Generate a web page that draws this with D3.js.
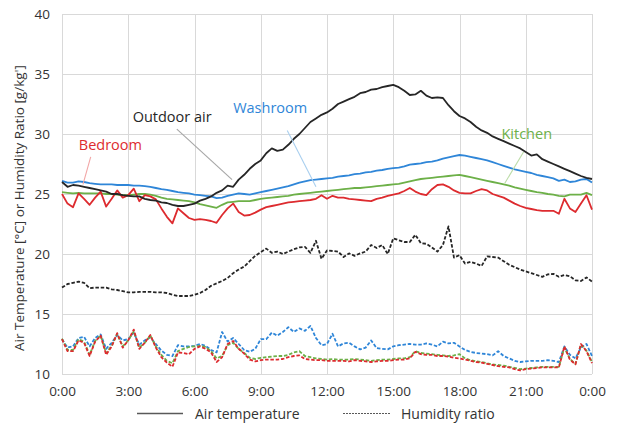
<!DOCTYPE html>
<html>
<head>
<meta charset="utf-8">
<script src="https://cdn.jsdelivr.net/npm/d3@7"></script>
<style>
  html, body { margin: 0; padding: 0; background: #fff; }
  svg { display: block; font-family: "Open Sans", "Noto Sans", sans-serif; }
</style>
</head>
<body>
<svg id="chart" width="626" height="427"></svg>
<script>
// 15-minute samples over one day (hours 0..24)
const times = d3.range(0, 97).map(i => i / 4);

const xTickHours = [0, 3, 6, 9, 12, 15, 18, 21, 24];
const xTickLabels = ["0:00", "3:00", "6:00", "9:00", "12:00", "15:00", "18:00", "21:00", "0:00"];
const yTicks = [10, 15, 20, 25, 30, 35, 40];

// Air temperature [°C]
const outdoorTemp = [
  26.0, 25.6, 25.75, 25.7, 25.6, 25.5, 25.4, 25.3, 25.2, 25.0, 25.0, 24.9,
  24.85, 24.8, 24.8, 24.6, 24.5, 24.45, 24.3, 24.25, 24.1, 24.0, 24.0, 24.1,
  24.2, 24.45, 24.6, 24.8, 25.1, 25.3, 25.7, 25.6, 26.2, 26.6, 27.1, 27.5,
  27.8, 28.4, 28.8, 28.6, 28.7, 29.1, 29.6, 30.0, 30.5, 31.0, 31.3, 31.6,
  31.8, 32.1, 32.5, 32.7, 32.9, 33.1, 33.4, 33.5, 33.7, 33.75, 33.9, 34.0,
  34.1, 33.9, 33.6, 33.25, 33.3, 33.6, 33.2, 33.0, 33.05, 33.0, 32.4, 31.9,
  31.5, 31.3, 31.0, 30.6, 30.3, 30.1, 29.8, 29.6, 29.4, 29.2, 29.0, 28.8,
  28.5, 28.2, 28.3, 27.9, 27.7, 27.5, 27.3, 27.1, 26.9, 26.7, 26.5, 26.35,
  26.25
];
const washroomTemp = [
  26.1, 25.95, 25.95, 26.05, 26.0, 25.9, 25.85, 25.8, 25.8, 25.8, 25.75, 25.75,
  25.75, 25.7, 25.7, 25.65, 25.6, 25.5, 25.4, 25.35, 25.25, 25.15, 25.1, 25.05,
  24.95, 24.9, 24.85, 24.8, 24.65, 24.7, 24.85, 24.95, 25.05, 25.0, 24.95, 25.05,
  25.15, 25.25, 25.35, 25.45, 25.55, 25.65, 25.8, 25.95, 26.05, 26.15, 26.2, 26.25,
  26.3, 26.35, 26.45, 26.5, 26.55, 26.65, 26.7, 26.8, 26.85, 26.95, 27.0, 27.1,
  27.15, 27.2, 27.3, 27.45, 27.5, 27.55, 27.65, 27.7, 27.8, 27.95, 28.05, 28.15,
  28.25, 28.2, 28.1, 28.0, 27.9, 27.8, 27.65, 27.5, 27.35, 27.2, 27.05, 26.95,
  26.85, 26.75, 26.6, 26.5, 26.4, 26.3, 26.1, 26.2, 26.0, 26.05, 26.2, 26.25,
  25.95
];
const kitchenTemp = [
  25.15, 25.1, 25.05, 25.1, 25.05, 25.05, 25.05, 25.05, 25.0, 25.0, 24.95, 24.9,
  24.9, 24.95, 25.0, 25.0, 24.95, 24.85, 24.7, 24.6, 24.55, 24.5, 24.45, 24.4,
  24.3, 24.15, 24.05, 23.95, 23.85, 24.1, 24.3, 24.35, 24.4, 24.4, 24.4, 24.5,
  24.6, 24.65, 24.7, 24.75, 24.8, 24.85, 24.95, 25.0, 25.05, 25.1, 25.15, 25.2,
  25.25, 25.3, 25.35, 25.4, 25.45, 25.5, 25.5, 25.55, 25.6, 25.65, 25.7, 25.75,
  25.8, 25.85, 25.95, 26.05, 26.15, 26.25, 26.3, 26.35, 26.4, 26.45, 26.5, 26.55,
  26.6, 26.5, 26.4, 26.3, 26.2, 26.1, 26.0, 25.9, 25.8, 25.7, 25.55, 25.45,
  25.35, 25.25, 25.15, 25.1, 25.0, 24.95, 24.85, 24.8, 24.95, 24.95, 24.95, 25.1,
  24.9
];
const bedroomTemp = [
  25.0, 24.2, 23.9, 25.05, 24.6, 24.1, 24.7, 25.2, 23.95, 24.6, 25.3, 24.7,
  24.9, 25.45, 24.4, 24.9, 24.8, 24.55, 23.8, 23.1, 22.55, 23.8, 23.4, 23.0,
  22.85, 22.9, 22.85, 22.75, 22.6, 23.25, 23.8, 24.2, 23.5, 23.2, 23.25, 23.45,
  23.7, 23.9, 24.0, 24.1, 24.2, 24.3, 24.35, 24.4, 24.45, 24.5, 24.6, 24.9,
  24.6, 24.85, 24.7, 24.7, 24.6, 24.55, 24.5, 24.45, 24.4, 24.6, 24.7, 24.85,
  24.95, 25.05, 25.25, 25.5, 25.2, 25.0, 24.9, 25.4, 25.75, 25.8, 25.6, 25.3,
  25.1, 25.05, 25.05, 25.25, 25.4, 25.3, 25.0, 24.85, 24.7, 24.45, 24.2, 24.0,
  23.85, 23.75, 23.65, 23.6, 23.6, 23.6, 23.35, 24.6, 23.8, 23.5, 24.2, 24.9,
  23.7
];

// Humidity ratio [g/kg']
const outdoorHum = [
  17.2, 17.5, 17.6, 17.7, 17.6, 17.15, 17.2, 17.2, 17.2, 17.05, 17.0, 16.9,
  16.8, 16.8, 16.85, 16.85, 16.85, 16.8, 16.8, 16.75, 16.6, 16.5, 16.5, 16.5,
  16.6, 16.75, 17.0, 17.35, 17.55, 17.75, 18.0, 18.4, 18.7, 18.95, 19.4, 19.85,
  20.15, 20.45, 20.1, 20.2, 20.0, 20.2, 20.4, 20.55, 20.6, 20.1, 21.1, 19.6,
  20.3, 20.25, 20.2, 19.75, 20.05, 19.85, 20.05, 20.2, 20.75, 20.5, 20.75, 20.0,
  21.3, 21.15, 21.0, 21.0, 21.6, 20.9, 20.85, 20.55, 20.2, 20.75, 22.3, 19.7,
  19.9, 19.2, 19.35, 19.2, 19.0, 19.8, 19.75, 19.7, 19.4, 19.1, 18.9, 18.7,
  18.55, 18.4, 18.25, 18.1, 18.3, 18.35, 18.1, 18.25, 18.15, 17.8, 17.75, 18.05,
  17.7
];
const washroomHum = [
  12.9, 12.2, 12.3, 13.0, 13.1, 12.3, 13.0, 13.3, 12.1, 12.6, 13.25, 12.8,
  12.9, 13.45, 12.45, 12.8, 13.05, 12.5, 11.95, 11.6, 11.5, 12.4, 12.3, 12.3,
  12.35, 12.5, 12.35, 12.0, 11.8, 13.5, 12.7, 13.0, 12.5, 12.0, 11.85, 12.1,
  12.9, 12.9, 13.45, 13.2, 13.5, 13.9, 13.5, 13.8, 13.6, 14.0, 13.0, 12.4,
  12.5, 13.35, 12.3, 12.55, 12.6, 12.3, 12.05, 12.2, 12.8, 12.15, 12.1, 12.05,
  12.3, 12.4, 12.45, 12.5, 12.45, 12.45, 12.55, 12.45, 12.3, 12.7, 12.55, 12.6,
  12.3, 12.0, 11.85, 11.75, 11.7, 11.65, 11.55, 11.9, 11.5, 11.3, 11.1, 11.0,
  11.05, 11.1, 11.1, 11.1, 11.15, 11.1, 11.0, 12.3, 11.6, 11.3, 12.2, 12.5,
  11.5
];
const kitchenHum = [
  12.95, 12.0, 12.0, 12.9, 12.7, 11.6, 12.75, 13.2, 11.75, 12.35, 13.35, 12.3,
  12.8, 13.55, 12.2, 12.6, 13.2, 12.3, 11.6, 11.1, 10.9, 11.9, 12.1, 12.25,
  12.3, 12.35, 12.25, 11.9, 11.3, 11.5, 12.4, 12.6, 12.1, 11.75, 11.35, 11.25,
  11.35, 11.4, 11.45, 11.5, 11.5, 11.6, 11.8, 11.9, 11.5, 11.4, 11.3, 11.25,
  11.2, 11.25, 11.2, 11.2, 11.2, 11.25, 11.2, 11.15, 11.1, 11.15, 11.2, 11.2,
  11.25, 11.3, 11.3, 11.4, 11.9, 11.75, 11.7, 11.65, 11.6, 11.55, 11.5, 11.55,
  11.65, 11.3, 11.15, 11.05, 11.0, 10.9, 10.8, 10.75, 10.7, 10.6, 10.5, 10.4,
  10.45, 10.5, 10.55, 10.6, 10.6, 10.6, 10.6, 12.2, 11.25, 10.85, 12.45, 11.95,
  11.0
];
const bedroomHum = [
  12.9, 11.9, 11.9, 12.8, 12.6, 11.5, 12.7, 13.2, 11.6, 12.3, 13.4, 12.2,
  12.8, 13.7, 12.1, 12.6, 13.25, 12.2, 11.4, 10.95, 10.6, 11.8, 11.75, 11.65,
  12.1, 12.3, 12.1, 11.8, 11.0, 11.4, 12.5, 12.75, 12.1, 11.7, 11.2, 11.05,
  11.15, 11.2, 11.2, 11.2, 11.25, 11.4, 11.5, 11.55, 11.25, 11.2, 11.15, 11.15,
  11.1, 11.1, 11.1, 11.1, 11.05, 11.15, 11.1, 11.05, 11.0, 11.05, 11.1, 11.1,
  11.15, 11.2, 11.2, 11.3, 11.85, 11.65, 11.6, 11.6, 11.5, 11.5, 11.45, 11.35,
  11.3, 11.2, 11.1, 11.0, 10.95, 10.85, 10.75, 10.65, 10.6, 10.55, 10.4, 10.3,
  10.4, 10.45, 10.5, 10.55, 10.55, 10.55, 10.55, 12.3, 11.2, 10.8, 12.5, 11.9,
  10.9
];

const colors = {
  outdoor: "#262626",
  washroom: "#2f86d8",
  kitchen: "#6db048",
  bedroom: "#dd2b2f"
};

const svg = d3.select("#chart");
const x = d3.scaleLinear().domain([0, 24]).range([62, 592]);
const y = d3.scaleLinear().domain([10, 40]).range([374, 14]);

// grid
const grid = svg.append("g").attr("stroke", "#d9d9d9").attr("stroke-width", 1);
grid.selectAll("line.h").data(yTicks).join("line")
  .attr("x1", x(0)).attr("x2", x(24))
  .attr("y1", d => Math.round(y(d)) + 0.5).attr("y2", d => Math.round(y(d)) + 0.5);
grid.selectAll("line.v").data(xTickHours).join("line")
  .attr("y1", y(10)).attr("y2", y(40))
  .attr("x1", d => Math.round(x(d)) + 0.5).attr("x2", d => Math.round(x(d)) + 0.5);

// axes (labels only; grid lines above act as the frame)
const xAxis = svg.append("g")
  .attr("transform", `translate(0,${y(10)})`)
  .call(d3.axisBottom(x).tickValues(xTickHours).tickSize(0).tickPadding(12)
    .tickFormat((d, i) => xTickLabels[i]));
const yAxis = svg.append("g")
  .attr("transform", `translate(${x(0)},0)`)
  .call(d3.axisLeft(y).tickValues(yTicks).tickSize(0).tickPadding(12));
[xAxis, yAxis].forEach(g => {
  g.select(".domain").remove();
  g.selectAll("text").attr("fill", "#333").style("font-size", "13.5px")
    .style("font-family", "\"Open Sans\", sans-serif");
});

svg.append("text")
  .attr("transform", `translate(24,${(y(10) + y(40)) / 2 + 14}) rotate(-90)`)
  .attr("text-anchor", "middle")
  .attr("fill", "#333")
  .style("font-size", "13.5px")
  .text("Air Temperature [°C] or Humidity Ratio [g/kg']");

const line = d3.line().x((d, i) => x(times[i])).y(d => y(d));

const plot = svg.append("g").attr("fill", "none").attr("stroke-linejoin", "round");

const humSeries = [
  { values: outdoorHum, color: colors.outdoor },
  { values: washroomHum, color: colors.washroom },
  { values: kitchenHum, color: colors.kitchen },
  { values: bedroomHum, color: colors.bedroom }
];
plot.selectAll("path.hum").data(humSeries).join("path")
  .attr("class", "hum")
  .attr("d", d => line(d.values))
  .attr("stroke", d => d.color)
  .attr("stroke-width", 1.8)
  .attr("stroke-dasharray", "3.5,1.8");

const tempSeries = [
  { values: kitchenTemp, color: colors.kitchen },
  { values: washroomTemp, color: colors.washroom },
  { values: bedroomTemp, color: colors.bedroom },
  { values: outdoorTemp, color: colors.outdoor }
];
plot.selectAll("path.temp").data(tempSeries).join("path")
  .attr("class", "temp")
  .attr("d", d => line(d.values))
  .attr("stroke", d => d.color)
  .attr("stroke-width", 1.8);

// series labels with leader lines (anchored in data units)
const labels = [
  { text: "Outdoor air", color: "#262626", lead: "#a6a6a6", tx: 3.2, ty: 31.0, from: [5.2, 30.4], to: [7.7, 26.2] },
  { text: "Washroom", color: "#2f86d8", lead: "#a9cfef", tx: 7.75, ty: 31.75, from: [10.2, 30.3], to: [11.5, 25.6] },
  { text: "Bedroom", color: "#dd2b2f", lead: "#f2a6a6", tx: 0.76, ty: 28.7, from: [1.3, 28.1], to: [0.95, 25.8] },
  { text: "Kitchen", color: "#6db048", lead: "#bcdca8", tx: 19.9, ty: 29.6, from: [20.9, 28.5], to: [20.05, 25.9] }
];
const ann = svg.append("g");
ann.selectAll("line").data(labels).join("line")
  .attr("x1", d => x(d.from[0])).attr("y1", d => y(d.from[1]))
  .attr("x2", d => x(d.to[0])).attr("y2", d => y(d.to[1]))
  .attr("stroke", d => d.lead).attr("stroke-width", 1.1);
ann.selectAll("text").data(labels).join("text")
  .attr("x", d => x(d.tx)).attr("y", d => y(d.ty))
  .attr("fill", d => d.color)
  .style("font-size", "14.5px")
  .text(d => d.text);

// legend
const legend = svg.append("g").attr("transform", "translate(0,413)");
legend.append("line").attr("x1", 137).attr("x2", 183).attr("y1", 0.5).attr("y2", 0.5)
  .attr("stroke", "#595959").attr("stroke-width", 1.3);
legend.append("text").attr("x", 195).attr("y", 5.5).attr("fill", "#333")
  .style("font-size", "14px").text("Air temperature");
legend.append("line").attr("x1", 343).attr("x2", 390).attr("y1", 0.5).attr("y2", 0.5)
  .attr("stroke", "#595959").attr("stroke-width", 1.1).attr("stroke-dasharray", "2,1");
legend.append("text").attr("x", 401).attr("y", 5.5).attr("fill", "#333")
  .style("font-size", "14px").text("Humidity ratio");
</script>
</body>
</html>
